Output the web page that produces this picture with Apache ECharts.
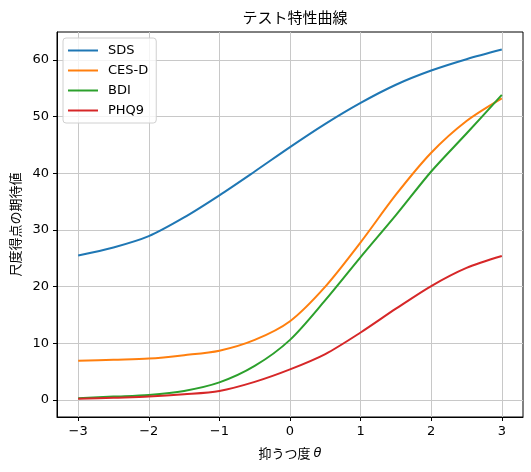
<!DOCTYPE html>
<html>
<head>
<meta charset="utf-8">
<script src="https://cdn.jsdelivr.net/npm/echarts@6/dist/echarts.min.js"></script>
<style>
  html, body { margin: 0; padding: 0; background: #fff; }
  #main { width: 531px; height: 472px; }
</style>
</head>
<body>
<div id="main"></div>
<script>
// theta grid, values
var theta = [-3, -2.5, -2, -1.5, -1, -0.5, 0, 0.5, 1, 1.5, 2, 2.5, 3];
var sds  = [25.5, 26.9, 28.9, 32.2, 36.1, 40.3, 44.6, 48.7, 52.4, 55.6, 58.1, 60.1, 61.8];
var cesd = [6.9, 7.1, 7.3, 7.9, 8.7, 10.6, 13.9, 20.0, 27.8, 36.2, 43.6, 49.2, 53.2];
var bdi  = [0.3, 0.6, 0.9, 1.6, 3.1, 6.0, 10.6, 17.6, 25.2, 32.6, 40.3, 47.0, 53.8];
var phq9 = [0.2, 0.4, 0.6, 1.0, 1.6, 3.2, 5.4, 8.1, 11.9, 16.1, 20.1, 23.3, 25.4];

var xTicks = [-3, -2, -1, 0, 1, 2, 3];
var yTicks = [0, 10, 20, 30, 40, 50, 60];

var names = ['SDS', 'CES-D', 'BDI', 'PHQ9'];
var colors = ['#1f77b4', '#ff7f0e', '#2ca02c', '#d62728'];
var values = [sds, cesd, bdi, phq9];

function pairs(ys) {
    return theta.map(function (t, i) { return [t, ys[i]]; });
}
function minus(v) {
    return String(v).replace('-', '\u2212');
}

var font = 'DejaVu Sans, Noto Sans CJK JP, sans-serif';

var option = {
    animation: false,
    backgroundColor: '#fff',
    title: {
        text: 'テスト特性曲線',
        left: 290,
        textAlign: 'center',
        top: 5,
        textStyle: { fontFamily: 'Noto Sans CJK JP', fontSize: 15, fontWeight: 'normal', color: '#000' }
    },
    legend: {
        data: names,
        orient: 'vertical',
        left: 63,
        top: 38,
        icon: 'path://M0,0 H30 V2 H0 Z',
        itemWidth: 30,
        itemHeight: 14,
        itemGap: 7,
        padding: [6, 8, 6, 5],
        borderColor: '#d0d0d0',
        borderWidth: 1,
        borderRadius: 3,
        backgroundColor: 'rgba(255,255,255,0.8)',
        textStyle: { fontFamily: font, fontSize: 13, color: '#000', padding: [0, 0, 0, 5] }
    },
    grid: {
        left: 57, right: 8, top: 32, bottom: 55,
        show: true,
        borderColor: '#000',
        borderWidth: 1
    },
    xAxis: {
        type: 'value',
        min: -3.3,
        max: 3.3,
        name: '抑うつ度 {i|θ}',
        nameLocation: 'middle',
        nameGap: 30,
        nameTextStyle: {
            fontFamily: 'Noto Sans CJK JP', fontSize: 13, color: '#000',
            rich: { i: { fontFamily: 'DejaVu Sans', fontStyle: 'italic', fontSize: 13, color: '#000' } }
        },
        axisLine: { show: true, onZero: false, lineStyle: { color: '#000', width: 1 } },
        axisTick: { show: true, length: 4, lineStyle: { color: '#000' }, customValues: xTicks },
        axisLabel: { customValues: xTicks, margin: 8, fontFamily: font, fontSize: 13, color: '#000', formatter: minus },
        splitLine: { show: true, lineStyle: { color: '#c8c8c8', width: 1 } }
    },
    yAxis: {
        type: 'value',
        min: -3,
        max: 64.9,
        name: '尺度得点の期待値',
        nameLocation: 'middle',
        nameGap: 33,
        nameTextStyle: { fontFamily: 'Noto Sans CJK JP', fontSize: 13, color: '#000' },
        axisLine: { show: true, onZero: false, lineStyle: { color: '#000', width: 1 } },
        axisTick: { show: true, length: 4, lineStyle: { color: '#000' }, customValues: yTicks },
        axisLabel: { customValues: yTicks, margin: 8, fontFamily: font, fontSize: 13, color: '#000', formatter: minus },
        splitLine: { show: true, lineStyle: { color: '#c8c8c8', width: 1 } }
    },
    series: names.map(function (n, i) {
        return {
            name: n,
            type: 'line',
            data: pairs(values[i]),
            smooth: 0.3,
            symbol: 'none',
            color: colors[i],
            lineStyle: { width: 2, color: colors[i] }
        };
    })
};

var myChart = echarts.init(document.getElementById('main'));
myChart.setOption(option);
</script>
</body>
</html>
